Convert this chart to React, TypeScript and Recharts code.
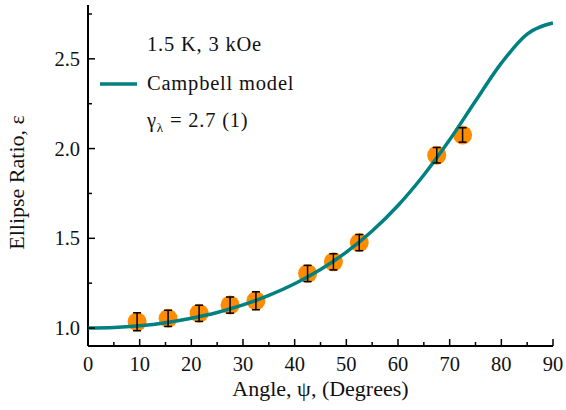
import React from "react";
import {
  ComposedChart,
  Line,
  Scatter,
  ErrorBar,
  XAxis,
  YAxis,
  Legend,
} from "recharts";

// Campbell model curve, every 5 degrees
const curveAngles = [0, 5, 10, 15, 20, 25, 30, 35, 40, 45, 50, 55, 60, 65, 70, 75, 80, 85, 90];
const curveRatios = [
  1.0, 1.003, 1.013, 1.03, 1.055, 1.087, 1.129, 1.182, 1.247, 1.326, 1.423, 1.541, 1.683,
  1.853, 2.049, 2.265, 2.476, 2.638, 2.7,
];

// measured points
const pointAngles = [9.5, 15.5, 21.5, 27.5, 32.5, 42.5, 47.5, 52.5, 67.5, 72.5];
const pointRatios = [1.035, 1.054, 1.082, 1.128, 1.152, 1.304, 1.369, 1.476, 1.963, 2.076];
const pointErrors = [0.05, 0.045, 0.045, 0.045, 0.05, 0.045, 0.045, 0.045, 0.043, 0.04];

const xTicks = [0, 5, 10, 15, 20, 25, 30, 35, 40, 45, 50, 55, 60, 65, 70, 75, 80, 85, 90];
const yTicks = [1.0, 1.25, 1.5, 1.75, 2.0, 2.25, 2.5, 2.75];

const curve = curveAngles.map((x, i) => ({ x, y: curveRatios[i] }));
const points = pointAngles.map((x, i) => ({ x, y: pointRatios[i], err: pointErrors[i] }));

const FONT = "'Liberation Serif', 'Times New Roman', serif";
const TEAL = "#008080";
const ORANGE = "#ff8c00";

const isMajorX = (v: number) => v % 10 === 0;
const isMajorY = (v: number) => Math.abs(v * 2 - Math.round(v * 2)) < 1e-6;

function BottomTick(props: any) {
  const { x, y, payload } = props;
  const major = isMajorX(payload.value);
  return (
    <g>
      <line x1={x} x2={x} y1={y} y2={y - (major ? 7 : 4)} stroke="#000" strokeWidth={1.5} />
      {major && (
        <text x={x} y={y + 25} textAnchor="middle" fontFamily={FONT} fontSize={20.5} fill="#111">
          {payload.value}
        </text>
      )}
    </g>
  );
}

function TopTick(props: any) {
  const { x, y, payload } = props;
  const major = isMajorX(payload.value);
  return <line x1={x} x2={x} y1={y} y2={y + (major ? 7 : 4)} stroke="#000" strokeWidth={1.5} />;
}

function LeftTick(props: any) {
  const { x, y, payload } = props;
  const major = isMajorY(payload.value);
  return (
    <g>
      <line x1={x} x2={x + (major ? 7 : 4)} y1={y} y2={y} stroke="#000" strokeWidth={1.5} />
      {major && (
        <text x={x - 8} y={y + 7} textAnchor="end" fontFamily={FONT} fontSize={20.5} fill="#111">
          {payload.value.toFixed(1)}
        </text>
      )}
    </g>
  );
}

function RightTick(props: any) {
  const { x, y, payload } = props;
  const major = isMajorY(payload.value);
  return <line x1={x} x2={x - (major ? 7 : 4)} y1={y} y2={y} stroke="#000" strokeWidth={1.5} />;
}

function Notes() {
  return (
    <svg width={320} height={140} style={{ overflow: "visible", display: "block" }}>
      <g fontFamily={FONT} fontSize={20.5} letterSpacing={0.8} fill="#111">
        <text x={147} y={51}>1.5 K, 3 kOe</text>
        <line x1={100} x2={137} y1={84} y2={84} stroke={TEAL} strokeWidth={3.5} />
        <text x={147} y={90}>Campbell model</text>
        <text x={147} y={127}>
          γ
          <tspan fontSize={13} dy={5}>λ</tspan>
          <tspan dy={-5}> = 2.7 (1)</tspan>
        </text>
      </g>
    </svg>
  );
}

export default function App() {
  return (
    <div style={{ position: "absolute", left: 0, top: 0, width: 566, height: 410, background: "#fff" }}>
      <ComposedChart width={566} height={410} margin={{ top: 5, right: 13, bottom: 0, left: 0 }}>
        <XAxis
          xAxisId="bottom"
          type="number"
          dataKey="x"
          domain={[0, 90]}
          allowDataOverflow
          ticks={xTicks}
          interval={0}
          height={64}
          tickSize={0}
          tickMargin={0}
          tickLine={false}
          axisLine={{ stroke: "#000", strokeWidth: 2 }}
          tick={BottomTick}
          label={(p: any) => {
            const vb = p.viewBox;
            return (
              <text
                x={vb.x + vb.width / 2}
                y={vb.y + 50}
                textAnchor="middle"
                fontFamily={FONT}
                fontSize={22}
                fill="#111"
              >
                Angle, ψ, (Degrees)
              </text>
            );
          }}
        />
        <XAxis
          xAxisId="top"
          orientation="top"
          type="number"
          dataKey="x"
          domain={[0, 90]}
          allowDataOverflow
          ticks={xTicks}
          interval={0}
          height={0}
          tickSize={0}
          tickMargin={0}
          tickLine={false}
          axisLine={{ stroke: "#000", strokeWidth: 2 }}
          tick={TopTick}
        />
        <YAxis
          yAxisId="left"
          type="number"
          domain={[0.9, 2.8]}
          allowDataOverflow
          ticks={yTicks}
          interval={0}
          width={88}
          tickSize={0}
          tickMargin={0}
          tickLine={false}
          axisLine={{ stroke: "#000", strokeWidth: 2 }}
          tick={LeftTick}
          label={(p: any) => {
            const vb = p.viewBox;
            const cx = vb.x + 24;
            const cy = vb.y + vb.height / 2 + 7;
            return (
              <text
                x={cx}
                y={cy}
                transform={`rotate(-90, ${cx}, ${cy})`}
                textAnchor="middle"
                fontFamily={FONT}
                fontSize={22}
                fill="#111"
              >
                Ellipse Ratio, ε
              </text>
            );
          }}
        />
        <YAxis
          yAxisId="right"
          orientation="right"
          type="number"
          domain={[0.9, 2.8]}
          allowDataOverflow
          ticks={yTicks}
          interval={0}
          width={0}
          tickSize={0}
          tickMargin={0}
          tickLine={false}
          axisLine={{ stroke: "#000", strokeWidth: 2 }}
          tick={RightTick}
        />
        <Legend
          layout="horizontal"
          verticalAlign="middle"
          align="center"
          wrapperStyle={{ position: "absolute", left: 0, top: 0, width: 320, height: 140 }}
          content={() => <Notes />}
        />
        <Scatter
          xAxisId="bottom"
          yAxisId="left"
          data={points}
          dataKey="y"
          fill={ORANGE}
          zIndex={400}
          isAnimationActive={false}
          shape={(p: any) => <circle cx={p.cx} cy={p.cy} r={9.5} fill={ORANGE} />}
        />
        <Line
          xAxisId="bottom"
          yAxisId="left"
          data={curve}
          dataKey="y"
          type="monotone"
          stroke={TEAL}
          strokeWidth={3.5}
          dot={false}
          activeDot={false}
          zIndex={500}
          isAnimationActive={false}
        />
        <Scatter
          xAxisId="bottom"
          yAxisId="left"
          data={points}
          dataKey="y"
          zIndex={600}
          isAnimationActive={false}
          shape={() => <g />}
        >
          <ErrorBar
            dataKey="err"
            direction="y"
            width={4}
            stroke="#000"
            strokeWidth={1.5}
            zIndex={700}
            isAnimationActive={false}
          />
        </Scatter>
      </ComposedChart>
    </div>
  );
}
